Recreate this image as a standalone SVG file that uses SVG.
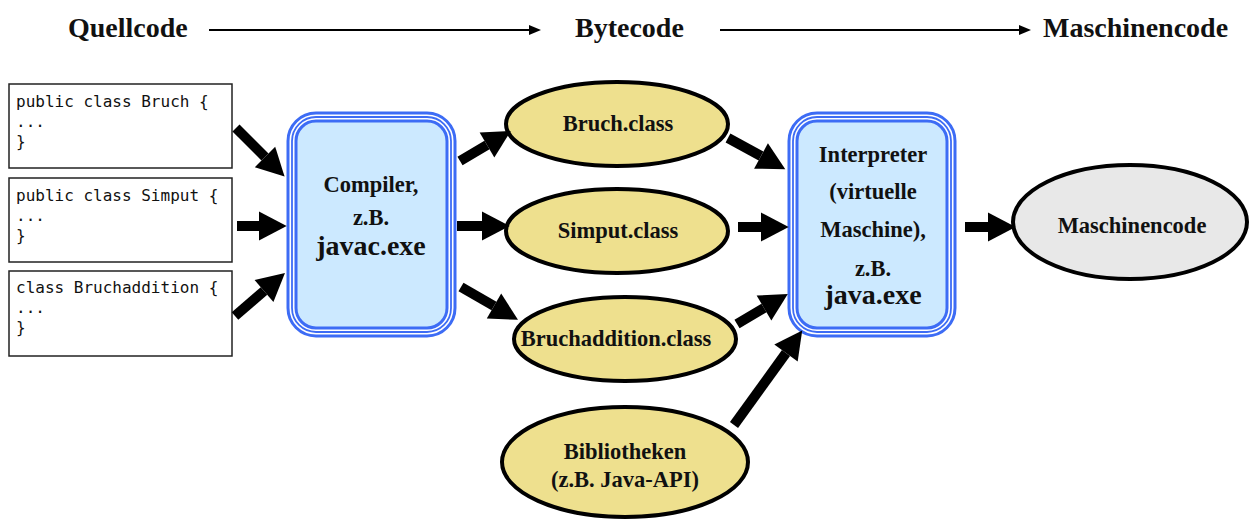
<svg xmlns="http://www.w3.org/2000/svg" width="1250" height="520" viewBox="0 0 1250 520">
  <style>
    .hdr { font-family: "Liberation Serif", "Times New Roman", serif; font-weight: bold; font-size: 28px; fill: #111; }
    .code { font-family: "DejaVu Sans Mono", "Liberation Mono", monospace; font-size: 16px; fill: #111; }
    .codebox { fill: #fff; stroke: #222; stroke-width: 1.5; }
    .lbl { font-family: "Liberation Serif", "Times New Roman", serif; font-weight: bold; font-size: 22.5px; fill: #111; text-anchor: middle; }
    .big { font-size: 28px; }
    .oval { fill: #eee08e; stroke: #000; stroke-width: 4; }
    .grey { fill: #e8e8e8; }
    .frame-a { fill: #cce9ff; stroke: #3d6cf5; stroke-width: 11; }
    .frame-b { fill: none; stroke: #fff; stroke-width: 5; }
    .frame-c { fill: none; stroke: #3d6cf5; stroke-width: 1.8; }
    .thin { stroke: #000; stroke-width: 2.2; fill: none; }
    .fat { stroke: #000; stroke-width: 10; fill: none; marker-end: url(#head); }
  </style>
  <defs>
    <marker id="head" markerUnits="userSpaceOnUse" markerWidth="30" markerHeight="30" viewBox="0 -13 24 26" refX="0" refY="0" orient="auto">
      <path d="M0,-12.5 L24,0 L0,12.5 Z" fill="#000"/>
    </marker>
    <marker id="tip" markerUnits="userSpaceOnUse" markerWidth="14" markerHeight="12" viewBox="0 -6 12 12" refX="0" refY="0" orient="auto">
      <path d="M0,-5 L12,0 L0,5 Z" fill="#000"/>
    </marker>
  </defs>

  <!-- stage headings -->
  <g id="headings">
    <text class="hdr" x="68" y="37">Quellcode</text>
    <text class="hdr" x="575" y="37">Bytecode</text>
    <text class="hdr" x="1043" y="37">Maschinencode</text>
  </g>

  <!-- source files -->
  <g id="src-bruch">
    <rect class="codebox" x="9" y="84" width="223" height="84"/>
    <text class="code" x="16" y="107">public class Bruch {</text>
    <text class="code" x="16" y="127">...</text>
    <text class="code" x="16" y="147">}</text>
  </g>
  <g id="src-simput">
    <rect class="codebox" x="9" y="178" width="223" height="84"/>
    <text class="code" x="16" y="201">public class Simput {</text>
    <text class="code" x="16" y="221">...</text>
    <text class="code" x="16" y="241">}</text>
  </g>
  <g id="src-bruchaddition">
    <rect class="codebox" x="9" y="271" width="223" height="85"/>
    <text class="code" x="16" y="293">class Bruchaddition {</text>
    <text class="code" x="16" y="313">...</text>
    <text class="code" x="16" y="333">}</text>
  </g>

  <!-- compiler -->
  <g id="compiler">
    <rect class="frame-a" x="292" y="117" width="159" height="215" rx="24"/>
    <rect class="frame-b" x="292" y="117" width="159" height="215" rx="24"/>
    <rect class="frame-c" x="292" y="117" width="159" height="215" rx="24"/>
    <text class="lbl" x="371" y="192">Compiler,</text>
    <text class="lbl" x="371" y="225">z.B.</text>
    <text class="lbl big" x="371" y="255">javac.exe</text>
  </g>

  <!-- class files -->
  <g id="bruch-class">
    <ellipse class="oval" cx="617" cy="124" rx="111" ry="42"/>
    <text class="lbl" x="618" y="131">Bruch.class</text>
  </g>
  <g id="simput-class">
    <ellipse class="oval" cx="617" cy="231" rx="111" ry="42"/>
    <text class="lbl" x="618" y="238">Simput.class</text>
  </g>
  <g id="bruchaddition-class">
    <ellipse class="oval" cx="625" cy="339" rx="111" ry="42"/>
    <text class="lbl" x="616" y="346">Bruchaddition.class</text>
  </g>
  <g id="bibliotheken">
    <ellipse class="oval" cx="625" cy="462" rx="123" ry="55"/>
    <text class="lbl" x="625" y="459">Bibliotheken</text>
    <text class="lbl" x="625" y="487">(z.B. Java-API)</text>
  </g>

  <!-- interpreter -->
  <g id="interpreter">
    <rect class="frame-a" x="793" y="117" width="158" height="215" rx="24"/>
    <rect class="frame-b" x="793" y="117" width="158" height="215" rx="24"/>
    <rect class="frame-c" x="793" y="117" width="158" height="215" rx="24"/>
    <text class="lbl" x="873" y="162">Interpreter</text>
    <text class="lbl" x="873" y="199">(virtuelle</text>
    <text class="lbl" x="873" y="237">Maschine),</text>
    <text class="lbl" x="873" y="276">z.B.</text>
    <text class="lbl big" x="873" y="304">java.exe</text>
  </g>

  <!-- machine code -->
  <g id="maschinencode">
    <ellipse class="oval grey" cx="1130" cy="222" rx="117" ry="57"/>
    <text class="lbl" x="1132" y="233">Maschinencode</text>
  </g>

  <!-- connectors -->
  <g id="connectors">
    <line class="thin" x1="209" y1="30" x2="529" y2="30" marker-end="url(#tip)"/>
    <line class="thin" x1="720" y1="30" x2="1019" y2="30" marker-end="url(#tip)"/>

    <line class="fat" x1="236" y1="128" x2="265" y2="157"/>
    <line class="fat" x1="237" y1="226" x2="259" y2="226"/>
    <line class="fat" x1="235" y1="316" x2="264" y2="291"/>

    <line class="fat" x1="460" y1="161" x2="487" y2="145"/>
    <line class="fat" x1="457" y1="226" x2="482" y2="226"/>
    <line class="fat" x1="461" y1="287" x2="494" y2="306"/>

    <line class="fat" x1="728" y1="138" x2="761" y2="156"/>
    <line class="fat" x1="738" y1="227" x2="761" y2="227"/>
    <line class="fat" x1="737" y1="324" x2="764" y2="308"/>
    <line class="fat" x1="734" y1="425" x2="786" y2="353"/>

    <line class="fat" x1="965" y1="227" x2="988" y2="227"/>
  </g>
</svg>
